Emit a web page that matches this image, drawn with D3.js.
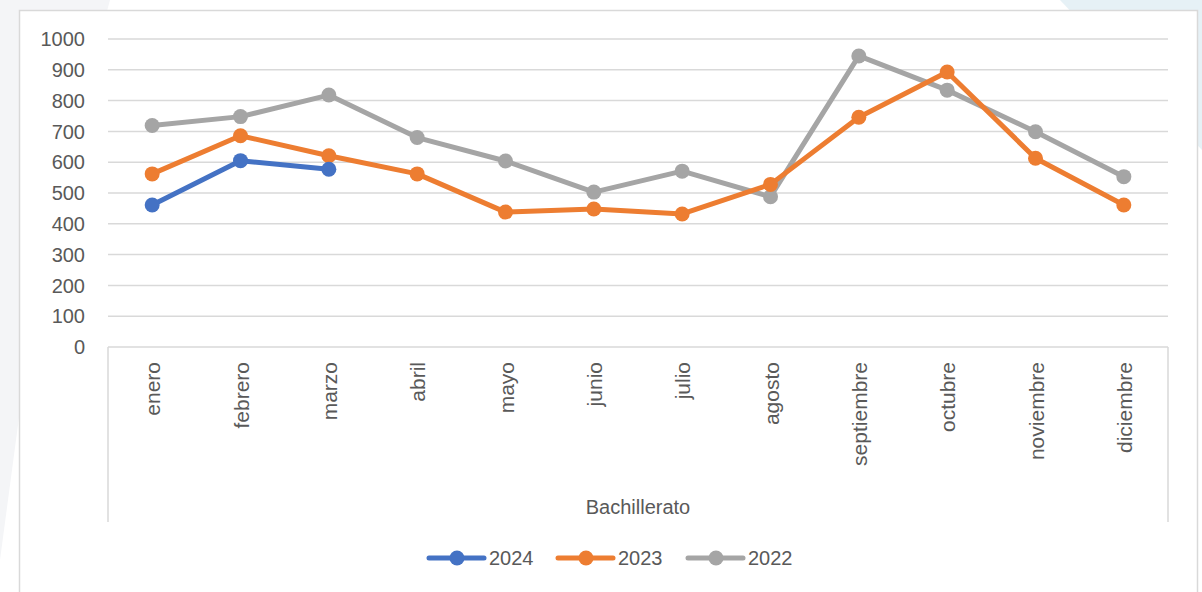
<!DOCTYPE html>
<html>
<head>
<meta charset="utf-8">
<title>Bachillerato</title>
<script src="https://d3js.org/d3.v7.min.js"></script>
<style>
  body { margin: 0; background: #fff; }
  text { font-family: "Liberation Sans", Arial, sans-serif; fill: #595959; }
</style>
</head>
<body>
<div id="chart"></div>
<script>
var months = ["enero", "febrero", "marzo", "abril", "mayo", "junio", "julio",
              "agosto", "septiembre", "octubre", "noviembre", "diciembre"];
var yTicks = [0, 100, 200, 300, 400, 500, 600, 700, 800, 900, 1000];
var years = ["2024", "2023", "2022"];
var values2024 = [461, 605, 577];
var values2023 = [562, 686, 621, 562, 438, 448, 432, 528, 746, 893, 613, 461];
var values2022 = [719, 748, 818, 680, 604, 503, 571, 488, 945, 834, 699, 553];
var colors = ["#4472C4", "#ED7D31", "#A5A5A5"];
var axisTitle = "Bachillerato";

var width = 1202, height = 592;
var plotLeft = 108, plotRight = 1168, plotTop = 39, plotBottom = 347;

var svg = d3.select("#chart").append("svg")
    .attr("width", width)
    .attr("height", height);

// faint background shapes outside the frame
svg.append("path")
    .attr("d", "M0,0 L110,0 L40,260 L0,560 Z")
    .attr("fill", "#f4f5f7");
svg.append("path")
    .attr("d", "M1060,0 L1202,0 L1202,150 Z")
    .attr("fill", "#e6f1f6");

// chart frame
svg.append("rect")
    .attr("x", 19.5).attr("y", 10.5)
    .attr("width", 1178).attr("height", 600)
    .attr("fill", "#fff")
    .attr("stroke", "#d9d9d9")
    .attr("stroke-width", 1.5);

var x = d3.scaleBand().domain(months).range([plotLeft, plotRight]);
var y = d3.scaleLinear().domain([0, 1000]).range([plotBottom, plotTop]);

// gridlines
svg.append("g").selectAll("line")
    .data(yTicks.filter(function(d) { return d > 0; }))
    .enter().append("line")
    .attr("x1", plotLeft).attr("x2", plotRight)
    .attr("y1", function(d) { return y(d); })
    .attr("y2", function(d) { return y(d); })
    .attr("stroke", "#d9d9d9")
    .attr("stroke-width", 1.5);

// y labels
svg.append("g").selectAll("text")
    .data(yTicks)
    .enter().append("text")
    .attr("x", 85)
    .attr("y", function(d) { return y(d); })
    .attr("dy", "0.36em")
    .attr("text-anchor", "end")
    .attr("font-size", 20)
    .text(function(d) { return d; });

// x axis line and category box edges
svg.append("line")
    .attr("x1", plotLeft).attr("x2", plotRight)
    .attr("y1", plotBottom).attr("y2", plotBottom)
    .attr("stroke", "#d9d9d9").attr("stroke-width", 1.5);
svg.selectAll(".edge")
    .data([plotLeft, plotRight])
    .enter().append("line")
    .attr("x1", function(d) { return d; })
    .attr("x2", function(d) { return d; })
    .attr("y1", plotBottom).attr("y2", 522)
    .attr("stroke", "#d9d9d9").attr("stroke-width", 1.5);

// month labels
svg.append("g").selectAll("text")
    .data(months)
    .enter().append("text")
    .attr("transform", function(d) {
        return "translate(" + (x(d) + x.bandwidth() / 2 + 8) + "," + 362 + ") rotate(-90)";
    })
    .attr("text-anchor", "end")
    .attr("font-size", 21)
    .text(function(d) { return d; });

svg.append("text")
    .attr("x", (plotLeft + plotRight) / 2)
    .attr("y", 514)
    .attr("text-anchor", "middle")
    .attr("font-size", 20)
    .text(axisTitle);

// series
var series = [values2024, values2023, values2022];
var line = d3.line()
    .x(function(d, i) { return x(months[i]) + x.bandwidth() / 2; })
    .y(function(d) { return y(d); });

series.slice().reverse().forEach(function(vals, k) {
    var idx = series.length - 1 - k;
    var g = svg.append("g");
    g.append("path")
        .datum(vals)
        .attr("d", line)
        .attr("fill", "none")
        .attr("stroke", colors[idx])
        .attr("stroke-width", 5)
        .attr("stroke-linejoin", "round")
        .attr("stroke-linecap", "round");
    g.selectAll("circle")
        .data(vals)
        .enter().append("circle")
        .attr("cx", function(d, i) { return x(months[i]) + x.bandwidth() / 2; })
        .attr("cy", function(d) { return y(d); })
        .attr("r", 7.5)
        .attr("fill", colors[idx]);
});

// legend
var legendX = [429, 558, 688];
var legend = svg.append("g").selectAll("g")
    .data(years)
    .enter().append("g")
    .attr("transform", function(d, i) { return "translate(" + legendX[i] + ",558)"; });
legend.append("line")
    .attr("x1", 0).attr("x2", 55)
    .attr("stroke", function(d, i) { return colors[i]; })
    .attr("stroke-width", 5)
    .attr("stroke-linecap", "round");
legend.append("circle")
    .attr("cx", 28).attr("r", 7.5)
    .attr("fill", function(d, i) { return colors[i]; });
legend.append("text")
    .attr("x", 60)
    .attr("dy", "0.36em")
    .attr("font-size", 20)
    .text(function(d) { return d; });
</script>
</body>
</html>
